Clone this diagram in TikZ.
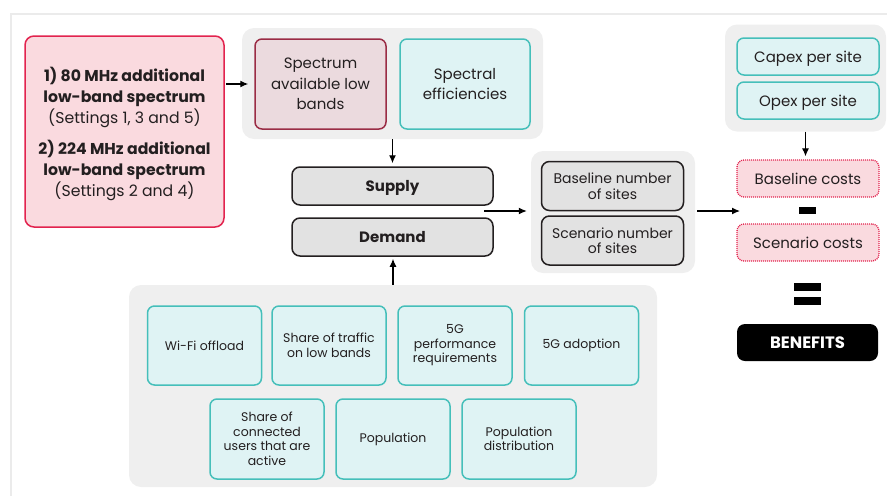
\documentclass[tikz,border=0pt]{standalone}
\usepackage{fontspec}
\setmainfont{Poppins}
\usetikzlibrary{arrows.meta}
\definecolor{ink}{HTML}{231F20}
\definecolor{framegray}{HTML}{EBEBEB}
\definecolor{grpgray}{HTML}{EFEFEF}
\definecolor{boxgray}{HTML}{E2E2E2}
\definecolor{tealfill}{HTML}{DFF3F4}
\definecolor{tealline}{HTML}{45BFBA}
\definecolor{pinkfill}{HTML}{FADADF}
\definecolor{pinkline}{HTML}{E2234E}
\definecolor{specfill}{HTML}{EBDADE}
\definecolor{specline}{HTML}{9A2C45}
\tikzstyle{grp} = [fill=grpgray, rounded corners=12pt, inner sep=0pt]
\tikzstyle{tealbox} = [draw=tealline, fill=tealfill, line width=1.5pt,
    rounded corners=7pt, align=center, text=ink, font=\fontsize{15}{20.5}\selectfont]
\tikzstyle{smallbox} = [tealbox, font=\fontsize{12.5}{14.5}\selectfont,
    minimum width=114pt]
\tikzstyle{greybox} = [draw=ink, fill=boxgray, line width=1.5pt,
    rounded corners=8pt, align=center, text=ink, font=\fontsize{15}{16}\selectfont]
\tikzstyle{costbox} = [draw=pinkline, fill=pinkfill, line width=1.3pt,
    dash pattern=on 1pt off 1pt, rounded corners=7pt, text=ink, text depth=-2pt,
    font=\fontsize{15}{16}\selectfont, minimum width=142pt, minimum height=37pt]
\tikzstyle{oneline} = [text height=11pt, text depth=-2pt]
\tikzstyle{lines} = [execute at begin node={\rule{0pt}{16pt}}]
\tikzstyle{bar} = [fill=black, inner sep=0pt]
\tikzstyle{arr} = [-{Latex[length=8pt,width=7pt]}, line width=1.2pt]

\begin{document}
\begin{tikzpicture}[x=1pt, y=-1pt]
\useasboundingbox (0,0) rectangle (887,496);
\draw[framegray, line width=2pt] (11,496) -- (11,14) -- (887,14);

\node[draw=pinkline, fill=pinkfill, line width=1.5pt, rounded corners=9pt,
    minimum width=199pt, minimum height=191pt, align=center, text=ink, text depth=-3.5pt,
    font=\fontsize{15.7}{21}\selectfont] (left) at (124.5,131.5)
    {\textbf{1) 80 MHz additional}\\\textbf{low-band spectrum}\\(Settings 1, 3 and 5)\\[10pt]
     \textbf{2) 224 MHz additional}\\\textbf{low-band spectrum}\\(Settings 2 and 4)};

\node[grp, minimum width=301pt, minimum height=111pt] (grp1) at (392.5,83.5) {};
\node[tealbox, lines, draw=specline, fill=specfill, minimum width=131pt, minimum height=90pt]
    (spec) at (320.5,84) {Spectrum\\available low\\bands};
\node[tealbox, lines, minimum width=130pt, minimum height=90pt] (eff) at (465,84)
    {Spectral\\efficiencies};

\node[greybox, oneline, minimum width=201pt, minimum height=38pt] (supply) at (392.5,186) {\textbf{Supply}};
\node[greybox, oneline, minimum width=201pt, minimum height=38pt] (demand) at (392.5,237) {\textbf{Demand}};

\node[grp, minimum width=164pt, minimum height=122pt] (grp2) at (613,212) {};
\node[greybox, lines, font=\fontsize{14}{15.5}\selectfont, minimum width=142pt,
    minimum height=49pt] (base) at (612.5,186) {Baseline number\\of sites};
\node[greybox, lines, font=\fontsize{14}{15.5}\selectfont, minimum width=142pt,
    minimum height=49pt] (scen) at (612.5,240.5) {Scenario number\\of sites};

\node[grp, minimum width=161pt, minimum height=107pt] (grp3) at (805.5,78) {};
\node[tealbox, oneline, minimum width=142pt, minimum height=37pt] (capex) at (808,56.5) {Capex per site};
\node[tealbox, oneline, minimum width=142pt, minimum height=37pt] (opex) at (808,100.5) {Opex per site};

\node[costbox] (basec) at (808,178.5) {Baseline costs};
\node[bar, minimum width=17pt, minimum height=7pt] (minus) at (807.5,210.5) {};
\node[costbox] (scenc) at (808,242.5) {Scenario costs};
\node[bar, minimum width=27pt, minimum height=8pt] (eqa) at (807.5,287) {};
\node[bar, minimum width=27pt, minimum height=8pt] (eqb) at (807.5,301) {};
\node[fill=black, rounded corners=8pt, minimum width=141pt, minimum height=37pt, text depth=-3pt,
    text=white, font=\fontsize{16.5}{17}\selectfont\bfseries] (benefits) at (807.5,342.5) {BENEFITS};

\node[grp, minimum width=528pt, minimum height=202pt] (grp4) at (393,386) {};
\node[smallbox, minimum height=79pt] (wifi) at (204.5,345.5) {Wi-Fi offload};
\node[smallbox, minimum height=79pt] (share) at (329,345.5) {Share of traffic\\on low bands};
\node[smallbox, minimum height=79pt] (perf) at (455,345.5) {5G\\performance\\requirements};
\node[smallbox, minimum height=79pt] (adopt) at (581.5,345.5) {5G adoption};
\node[smallbox, minimum height=80pt] (active) at (267,439) {Share of\\connected\\users that are\\active};
\node[smallbox, minimum height=80pt] (pop) at (393,439) {Population};
\node[smallbox, minimum height=80pt] (popdist) at (519,439) {Population\\distribution};

\coordinate (sd) at (484,211);
\coordinate (sc) at (740,211);
\draw[arr, shorten >=6pt, shorten <=1pt] (left.east |- spec.west) -- (spec.west);
\draw[arr, shorten >=3pt] (grp1.south) -- (supply.north);
\draw[arr, shorten >=2pt] (grp4.north) -- (grp4.north |- demand.south);
\draw[arr, shorten >=4pt] (sd) -- (sd -| grp2.west);
\draw[arr, shorten <=2pt] (grp2.east |- sc) -- (sc);
\draw[arr, shorten >=3pt] (grp3.south) -- (grp3.south |- basec.north);
\end{tikzpicture}
\end{document}
